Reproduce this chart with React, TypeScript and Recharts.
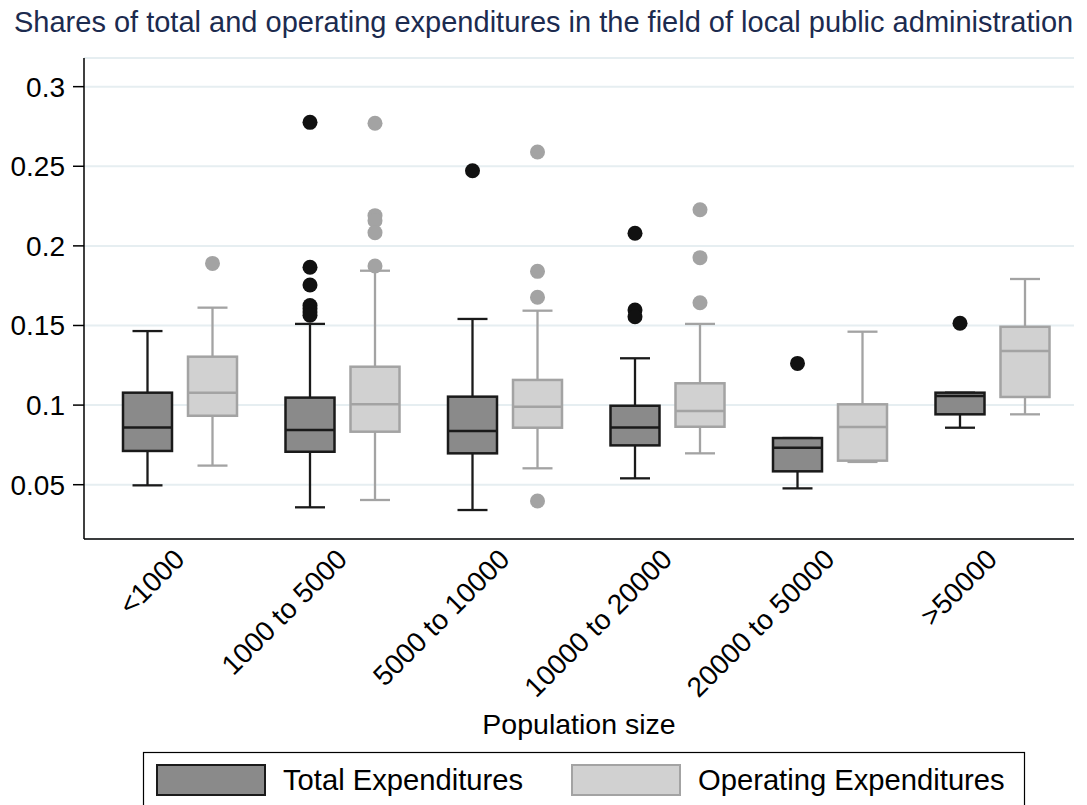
import { ComposedChart, Bar, XAxis, YAxis, CartesianGrid } from 'recharts';

const FONT = '"Liberation Sans", Arial, Helvetica, sans-serif';

const categories = ['<1000', '1000 to 5000', '5000 to 10000', '10000 to 20000', '20000 to 50000', '>50000'];

// Total expenditures: whiskers, quartiles, median, outliers
const totalLow = [0.0496, 0.0358, 0.0341, 0.054, 0.0477, 0.0858];
const totalQ1 = [0.0712, 0.0707, 0.0697, 0.0747, 0.0584, 0.0942];
const totalMedian = [0.086, 0.0843, 0.0837, 0.086, 0.0732, 0.1057];
const totalQ3 = [0.1078, 0.1047, 0.1053, 0.0996, 0.0793, 0.1078];
const totalHigh = [0.1465, 0.151, 0.1541, 0.1294, 0.0793, 0.1078];
const totalOutliers = [
  [],
  [0.2776, 0.1866, 0.1754, 0.1625, 0.1605, 0.1585, 0.1565],
  [0.2472],
  [0.2079, 0.1597, 0.1555],
  [0.1262],
  [0.1514],
];

// Operating expenditures
const opLow = [0.062, 0.0404, 0.0603, 0.0697, 0.0643, 0.0942];
const opQ1 = [0.0933, 0.0833, 0.0858, 0.0864, 0.0651, 0.1051];
const opMedian = [0.1078, 0.1005, 0.099, 0.0963, 0.0862, 0.134];
const opQ3 = [0.1304, 0.1241, 0.1158, 0.1137, 0.1005, 0.1492];
const opHigh = [0.1612, 0.1844, 0.1593, 0.151, 0.1461, 0.1792];
const opOutliers = [
  [0.189],
  [0.277, 0.219, 0.2158, 0.2083, 0.1874],
  [0.259, 0.184, 0.1677, 0.0398],
  [0.2227, 0.1926, 0.1643],
  [],
  [],
];

const yTicks = [0.05, 0.1, 0.15, 0.2, 0.25, 0.3];

const series = [
  { key: 'total', name: 'Total Expenditures', fill: '#8a8a8a', stroke: '#1a1a1a', dot: '#111111' },
  { key: 'operating', name: 'Operating Expenditures', fill: '#d1d1d1', stroke: '#a3a3a3', dot: '#a3a3a3' },
];

const data = categories.map((category, i) => ({
  category,
  totalRange: [totalLow[i], totalHigh[i]],
  operatingRange: [opLow[i], opHigh[i]],
  total: { lo: totalLow[i], q1: totalQ1[i], med: totalMedian[i], q3: totalQ3[i], hi: totalHigh[i], out: totalOutliers[i] },
  operating: { lo: opLow[i], q1: opQ1[i], med: opMedian[i], q3: opQ3[i], hi: opHigh[i], out: opOutliers[i] },
}));

function BoxShape(props: any) {
  const { x, y, width, height, stats, fill, stroke, dot } = props;
  if (!stats || !height) return null;
  // the bar spans lo..hi on the y scale; map the other stats onto it
  const perUnit = height / (stats.hi - stats.lo);
  const py = (v: number) => y + (stats.hi - v) * perUnit;
  const cx = x + width / 2;
  const cap = 15;
  return (
    <g>
      <line x1={cx} x2={cx} y1={py(stats.hi)} y2={py(stats.q3)} stroke={stroke} strokeWidth={2.3} />
      <line x1={cx} x2={cx} y1={py(stats.q1)} y2={py(stats.lo)} stroke={stroke} strokeWidth={2.3} />
      <line x1={cx - cap} x2={cx + cap} y1={py(stats.hi)} y2={py(stats.hi)} stroke={stroke} strokeWidth={2.3} />
      <line x1={cx - cap} x2={cx + cap} y1={py(stats.lo)} y2={py(stats.lo)} stroke={stroke} strokeWidth={2.3} />
      <rect
        x={x}
        y={py(stats.q3)}
        width={width}
        height={py(stats.q1) - py(stats.q3)}
        fill={fill}
        stroke={stroke}
        strokeWidth={2.5}
      />
      <line x1={x} x2={x + width} y1={py(stats.med)} y2={py(stats.med)} stroke={stroke} strokeWidth={2.5} />
      {stats.out.map((v: number, j: number) => (
        <circle key={j} cx={cx} cy={py(v)} r={7.5} fill={dot} />
      ))}
    </g>
  );
}

function XTick(props: any) {
  const { x, y, payload } = props;
  return (
    <g transform={`translate(${x + 6},${y + 22})`}>
      <text textAnchor="end" transform="rotate(-45)" fontSize={28} fill="#000" fontFamily={FONT}>
        {payload.value}
      </text>
    </g>
  );
}

export default function App() {
  return (
    <div style={{ position: 'absolute', left: 0, top: 0, width: 1087, height: 805, overflow: 'hidden', background: '#fff', fontFamily: FONT }}>
      <ComposedChart
        width={1087}
        height={805}
        data={data}
        margin={{ top: 58, right: 13, bottom: 0, left: 0 }}
        barSize={49}
        barGap={16}
        style={{ fontFamily: FONT }}
      >
        <CartesianGrid horizontal vertical={false} stroke="#e6eef1" strokeWidth={2} />
        <XAxis
          dataKey="category"
          interval={0}
          height={266}
          padding={{ left: 15, right: 0 }}
          axisLine={{ stroke: '#000', strokeWidth: 1.5 }}
          tickLine={false}
          tickSize={0}
          tickMargin={0}
          tick={<XTick />}
          label={{
            value: 'Population size',
            content: (p: any) => (
              <text
                x={p.viewBox.x + p.viewBox.width / 2}
                y={p.viewBox.y + 194.5}
                textAnchor="middle"
                fontSize={28.5}
                fill="#000"
                fontFamily={FONT}
              >
                Population size
              </text>
            ),
          }}
        />
        <YAxis
          type="number"
          width={84}
          domain={[0.0159, 0.318]}
          allowDataOverflow
          ticks={yTicks}
          tickFormatter={(v: number) => String(v)}
          axisLine={{ stroke: '#000', strokeWidth: 1.5 }}
          tickLine={{ stroke: '#000', strokeWidth: 1.5 }}
          tickSize={11}
          tickMargin={8}
          tick={{ fill: '#000', fontSize: 28, fontFamily: FONT }}
        />
        {series.map((s) => (
          <Bar
            key={s.key}
            dataKey={`${s.key}Range`}
            name={s.name}
            fill={s.fill}
            isAnimationActive={false}
            shape={(p: any) => (
              <BoxShape {...p} stats={p.payload[s.key]} fill={s.fill} stroke={s.stroke} dot={s.dot} />
            )}
          />
        ))}
      </ComposedChart>
      <svg width={1087} height={805} style={{ position: 'absolute', left: 0, top: 0, pointerEvents: 'none' }}>
        <text x={14} y={32} fontSize={29} fill="#1c2b4f" fontFamily={FONT}>
          Shares of total and operating expenditures in the field of local public administration
        </text>
        <rect x={143.5} y={752.5} width={881} height={70} fill="none" stroke="#000" strokeWidth={1.2} />
        {series.map((s, i) => (
          <g key={s.key}>
            <rect x={157 + i * 415} y={765} width={108} height={30} fill={s.fill} stroke={s.stroke} strokeWidth={2} />
            <text x={283 + i * 415} y={790} fontSize={29.2} fill="#000" fontFamily={FONT}>
              {s.name}
            </text>
          </g>
        ))}
      </svg>
    </div>
  );
}
